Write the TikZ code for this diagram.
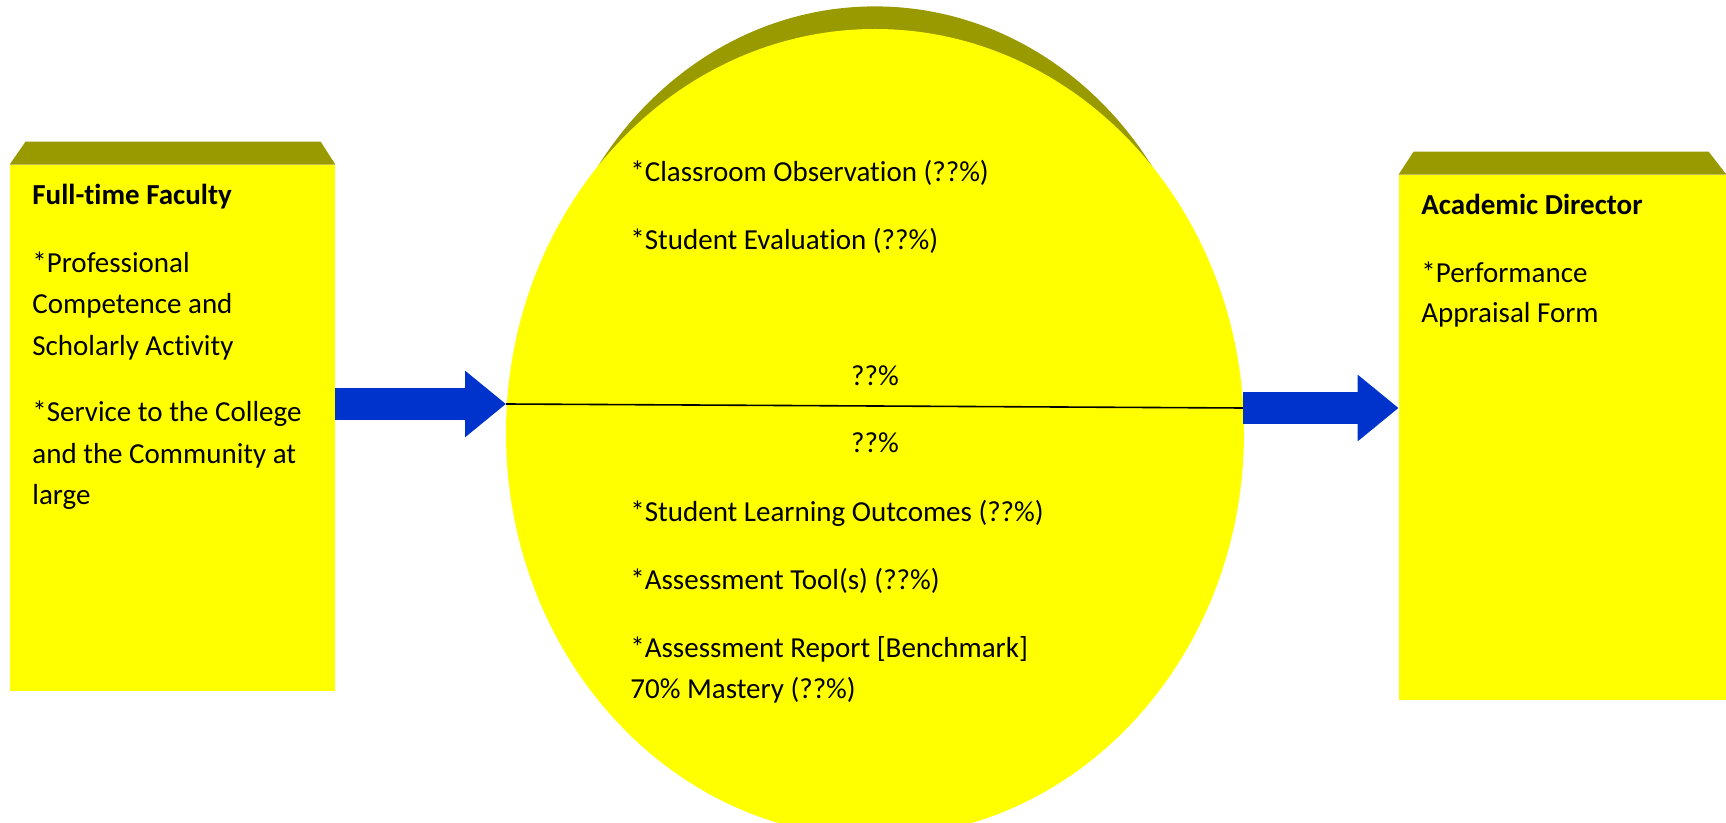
\documentclass[tikz,border=0pt]{standalone}
\usepackage{fontspec}
\setmainfont{Carlito}[Ligatures=NoCommon]
\usetikzlibrary{shapes.geometric,arrows.meta}
\definecolor{boxyellow}{RGB}{255,255,0}
\definecolor{boxtop}{RGB}{153,153,0}
\definecolor{arrowblue}{RGB}{0,51,204}
\tikzset{
  box/.style={rectangle, fill=boxyellow, inner sep=0pt, minimum width=162.5pt, minimum height=263pt},
  lbl/.style={anchor=base west, inner sep=0pt, font=\fontsize{14.5}{17}\selectfont},
  head/.style={lbl, font=\fontsize{14.5}{17}\selectfont\bfseries},
  bigarrow/.style={draw=arrowblue, line width=16pt, -{Triangle[length=20.5pt,width=32pt]}}
}
\begin{document}
\begin{tikzpicture}[x=0.5pt, y=-0.5pt]
\useasboundingbox (0,0) rectangle (1726,823);
\clip (0,0) rectangle (1726,823);
\node[ellipse, fill=boxtop, inner sep=0pt, minimum width=335.8pt, minimum height=367.6pt] (assessback) at (875,374) {};
\node[ellipse, fill=boxyellow, inner sep=0pt, minimum width=369pt, minimum height=404pt] (assess) at (875,433) {};
\node[box] (faculty) at (172.5,428) {};
\node[box, minimum width=163.5pt, minimum height=262.5pt] (director) at (1562.5,437.5) {};
\fill[boxtop] (faculty.north west) -- ++(16,-23) -- ++(295,0) -- (faculty.north east) -- cycle;
\fill[boxtop] (director.north west) -- ++(15,-23) -- ++(295,0) -- (director.north east) -- cycle;
\node[head] (facultyhead) at (32,205) {Full-time Faculty};
\foreach \y/\txt [count=\i] in {273/*Professional, 314/Competence and, 356/Scholarly Activity,
    422/*Service to the College, 464/and the Community at, 505/large}
  {\node[lbl] (faculty\i) at (32,\y) {\txt};}
\node[head] (directorhead) at (1421,215) {Academic Director};
\foreach \y/\txt [count=\i] in {283/*Performance, 323/Appraisal Form}
  {\node[lbl] (director\i) at (1421,\y) {\txt};}
\foreach \y/\txt [count=\i] in {182/*Classroom Observation (??\%), 250/*Student Evaluation (??\%),
    522/*Student Learning Outcomes (??\%), 590/*Assessment Tool(s) (??\%),
    658/*Assessment Report [Benchmark], 698/70\% Mastery (??\%)}
  {\node[lbl] (assess\i) at (630,\y) {\txt};}
\coordinate (lineL) at (506,404);
\coordinate (lineR) at (1243,408);
\draw[line width=0.8pt] (lineL) -- (lineR);
\node[lbl, anchor=base] (upper) at (875,386) {??\%};
\node[lbl, anchor=base] (lower) at (875,453) {??\%};
\draw[bigarrow] (faculty.east |- lineL) -- (lineL);
\draw[bigarrow] (lineR) -- (director.west |- lineR);
\end{tikzpicture}
\end{document}
